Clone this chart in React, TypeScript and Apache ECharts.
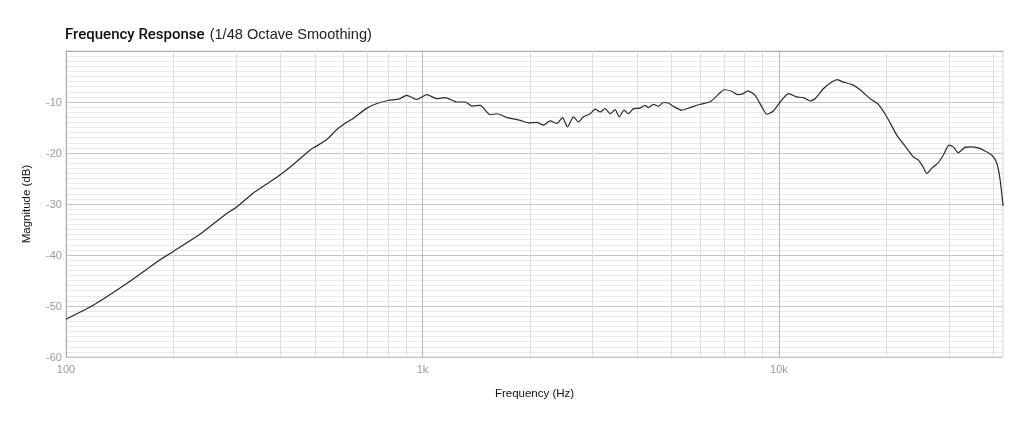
import React, { useEffect, useRef } from "react";
import * as echarts from "echarts";

const frequencies: number[] = [
  100, 119.5, 148, 184, 200, 238, 283, 300, 336, 382, 400, 435, 484, 500, 540, 575, 600, 640, 698, 745,
  800, 847, 866, 903, 964, 1028, 1098, 1158, 1249, 1318, 1376, 1452, 1549, 1617, 1725, 1879, 1983, 2094,
  2184, 2280, 2382, 2470, 2551, 2652, 2738, 2828, 2953, 3050, 3150, 3253, 3360, 3471, 3562, 3678, 3782,
  3906, 4077, 4211, 4302, 4444, 4590, 4741, 4896, 5057, 5339, 5632, 6008, 6411, 6761, 7015, 7373, 7643,
  7946, 8174, 8570, 8949, 9243, 9646, 10000, 10627, 11216, 11706, 12226, 12627, 13320, 14060, 14582,
  15155, 16003, 16885, 18012, 19000, 20065, 21397, 22575, 23822, 24604, 25311, 25977, 26829, 27990,
  28907, 29992, 30830, 31840, 33250, 34340, 36240, 37830, 39500, 40800, 41690, 42430, 42500,
];

const magnitudes: number[] = [
  -52.6, -49.8, -45.6, -40.9, -39.3, -35.9, -31.8, -30.7, -27.8, -25.2, -24.2, -22.2, -19.4, -18.8, -17.3,
  -15.4, -14.4, -13.2, -11.2, -10.3, -9.7, -9.5, -9.3, -8.7, -9.5, -8.55, -9.35, -9.15, -10.0, -10.0,
  -10.8, -10.65, -12.5, -12.3, -13.05, -13.6, -14.1, -14.0, -14.55, -13.7, -14.2, -13.05, -14.9, -12.9,
  -13.9, -12.9, -12.3, -11.4, -11.95, -11.3, -12.3, -11.5, -12.9, -11.6, -12.3, -11.3, -11.2, -10.65,
  -11.1, -10.45, -10.85, -10.1, -10.2, -10.85, -11.6, -11.1, -10.45, -9.95, -8.5, -7.6, -7.9, -8.55,
  -8.35, -7.8, -8.7, -10.95, -12.4, -11.75, -10.3, -8.35, -9.0, -9.15, -9.8, -9.35, -7.4, -6.1, -5.6,
  -6.1, -6.55, -7.6, -9.35, -10.45, -12.9, -16.5, -18.65, -20.75, -21.4, -22.6, -24.0, -23.0, -21.9,
  -20.4, -18.45, -18.8, -19.95, -18.9, -18.8, -19.0, -19.6, -20.4, -21.9, -25.1, -29.8, -30.4,
];

const minorFrequencies: number[] = [
  200, 300, 400, 500, 600, 700, 800, 900, 2000, 3000, 4000, 5000, 6000, 7000, 8000, 9000, 20000, 30000,
  40000,
];
const majorFrequencies: number[] = [1000, 10000];

const xLabels: Record<number, string> = { 100: "100", 1000: "1k", 10000: "10k" };

const FONT = "'Liberation Sans', Arial, Helvetica, sans-serif";

export default function App() {
  const ref = useRef<HTMLDivElement>(null);

  useEffect(() => {
    if (!ref.current) return;
    const chart = echarts.init(ref.current, undefined, { renderer: "svg" });
    const data = frequencies.map((f, i) => [f, magnitudes[i]]);
    chart.setOption({
      animation: false,
      textStyle: { fontFamily: FONT },
      title: {
        text: "{b|Frequency Response} {n|(1/48 Octave Smoothing)}",
        left: 60,
        top: 20,
        textStyle: {
          rich: {
            b: { fontFamily: "Roboto, 'Liberation Sans', sans-serif", fontSize: 15, fontWeight: 500, color: "#111" },
            n: { fontFamily: FONT, fontSize: 14.6, fontWeight: "normal", color: "#222" },
          },
        },
      },
      grid: { left: 66, right: 21, top: 51, bottom: 70, show: true, borderColor: "#d4d4d4", borderWidth: 1 },
      xAxis: {
        type: "log",
        logBase: 10,
        min: 100,
        max: 42500,
        name: "Frequency (Hz)",
        nameLocation: "middle",
        nameGap: 30,
        nameTextStyle: { color: "#111", fontSize: 11.5, fontFamily: FONT },
        axisLine: { show: true, lineStyle: { color: "#aaa", width: 1 } },
        axisTick: { show: false },
        axisLabel: {
          color: "#999",
          fontSize: 11,
          fontFamily: FONT,
          margin: 6,
          showMaxLabel: false,
          formatter: (v: number) => {
            const k = Math.round(v);
            return xLabels[k] !== undefined && Math.abs(v - k) < 1e-6 ? xLabels[k] : "";
          },
        },
        splitLine: { show: false },
        minorTick: { show: false },
        minorSplitLine: { show: false },
      },
      yAxis: {
        type: "value",
        min: -60,
        max: 0,
        interval: 10,
        name: "Magnitude (dB)",
        nameLocation: "middle",
        nameGap: 34,
        nameTextStyle: { color: "#111", fontSize: 11.5, fontFamily: FONT },
        axisLine: { show: true, lineStyle: { color: "#aaa" } },
        axisTick: { show: false },
        axisLabel: {
          color: "#999",
          fontSize: 11,
          fontFamily: FONT,
          margin: 4,
          formatter: (v: number) => (v === 0 ? "" : String(v)),
        },
        splitLine: { show: true, lineStyle: { color: "#c4c4c4", width: 1 } },
        minorTick: { show: false, splitNumber: 10 },
        minorSplitLine: { show: true, lineStyle: { color: "#e8e8e8", width: 1 } },
      },
      series: [
        {
          type: "line",
          data,
          showSymbol: false,
          symbol: "none",
          smooth: 0.2,
          lineStyle: { color: "#2a2a2a", width: 1.2 },
          z: 5,
          markLine: {
            silent: true,
            symbol: "none",
            animation: false,
            label: { show: false },
            data: [
              ...minorFrequencies.map((f) => ({ xAxis: f, lineStyle: { color: "#dedede", width: 1, type: "solid" } })),
              ...majorFrequencies.map((f) => ({ xAxis: f, lineStyle: { color: "#b8b8b8", width: 1, type: "solid" } })),
            ],
            z: 1,
          },
        },
      ],
    });
    return () => chart.dispose();
  }, []);

  return <div ref={ref} style={{ position: "fixed", left: 0, top: 0, width: 1024, height: 427 }} />;
}
